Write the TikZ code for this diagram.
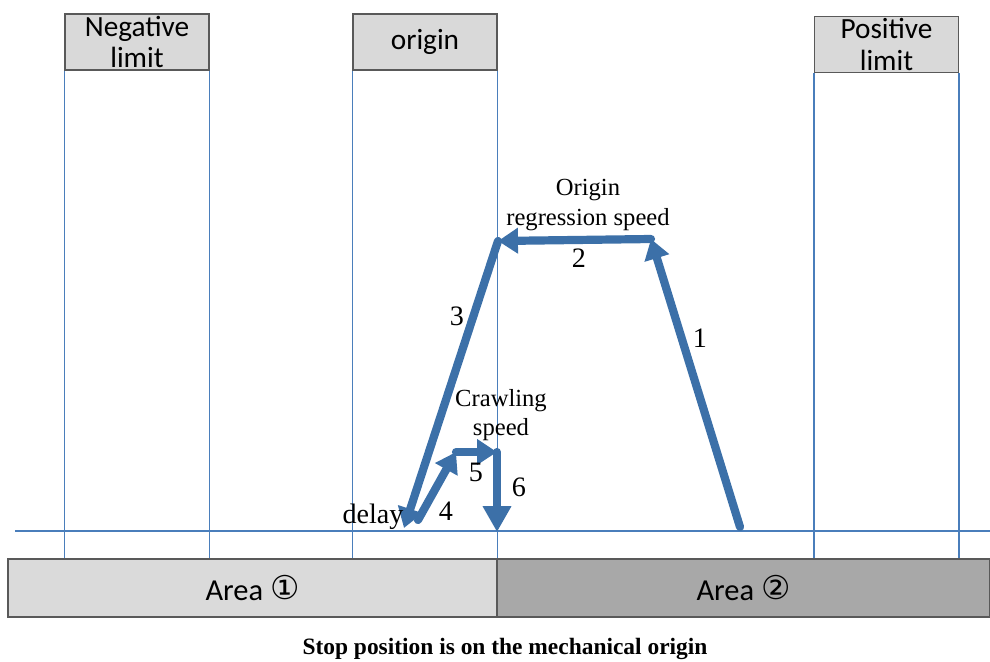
\documentclass[tikz,border=0pt]{standalone}
\usepackage{fontspec}
\usepackage{xcolor}
\usetikzlibrary{arrows.meta}
\setmainfont{Liberation Serif}
\newfontfamily\boxfont{Carlito}
\newfontfamily\symfont{DejaVu Sans}
\definecolor{railBlue}{HTML}{4A7EBB}
\definecolor{moveBlue}{HTML}{3C70A8}
\definecolor{capGray}{HTML}{D9D9D9}
\definecolor{edgeGray}{HTML}{595959}
\definecolor{areaLight}{HTML}{DADADA}
\definecolor{areaDark}{HTML}{A8A8A8}

\begin{document}
\begin{tikzpicture}[
        x=0.03cm, y=-0.03cm,
        capBox/.style={draw=edgeGray, fill=capGray, line width=1pt, minimum width=4.32cm, minimum height=1.68cm, inner sep=0pt, align=center, font=\boxfont\fontsize{25}{27}\selectfont},
        areaBox/.style={draw=edgeGray, line width=1pt, minimum height=1.74cm, inner sep=0pt, font=\boxfont\fontsize{26}{28}\selectfont},
        rail/.style={railBlue, line width=1.5pt},
        move/.style={moveBlue, line width=7pt, line cap=round, line join=round, -{Triangle[length=17pt, width=21pt]}},
        tag/.style={font=\fontsize{21}{25}\selectfont, align=center, inner sep=0pt},
        num/.style={font=\fontsize{24}{26}\selectfont, inner sep=0pt}
    ]
        \useasboundingbox (0,0) rectangle (990,661);

        % Limit and origin caps
        \node[capBox, at={(137,42)}] (neg) {Negative\\limit};
        \node[capBox, at={(425,42)}] (org) {origin};
        \node[capBox, at={(886.5,44.5)}] (pos) {Positive\\limit};

        % Areas
        \node[areaBox, fill=areaLight, minimum width=14.67cm, at={(252.5,588)}] (area1) {Area \raisebox{1.5pt}{\symfont\fontsize{28}{28}\selectfont ①}};
        \node[areaBox, fill=areaDark, minimum width=14.79cm, at={(743.5,588)}] (area2) {Area \raisebox{1.5pt}{\symfont\fontsize{28}{28}\selectfont ②}};

        % Vertical rails
        \foreach \cap in {neg, org, pos} {
            \draw[rail] (\cap.south west) -- (\cap.south west |- area1.north);
            \draw[rail] (\cap.south east) -- (\cap.south east |- area1.north);
        }

        % Horizontal axis
        \coordinate (axisL) at (15,531);
        \coordinate (axisR) at (990,531);
        \draw[rail] (axisL) -- (axisR);

        % Motion path points
        \coordinate (m1) at (740,527);
        \coordinate (m2) at (651,239);
        \coordinate (m3) at (498,241);
        \coordinate (m4) at (404,528);
        \coordinate (m5) at (418,520);
        \coordinate (m6) at (456,452);
        \coordinate (m7) at (497,452);
        \coordinate (m8) at (497,532);

        % Moves
        \draw[move] (m1) -- (m2);
        \draw[move] (m2) -- (m3);
        \draw[move] (m3) -- (m4);
        \draw[move] (m5) -- (m6);
        \draw[move] (m6) -- (m7);
        \draw[move, -{Triangle[length=22pt, width=23pt]}] (m7) -- (m8);

        % Labels
        \node[num] (t1) at (700,338) {1};
        \node[num] (t2) at (579,258) {2};
        \node[num] (t3) at (457,316) {3};
        \node[num] (t4) at (446,511) {4};
        \node[num] (t5) at (476,472) {5};
        \node[num] (t6) at (519,487) {6};
        \node[tag] (fast) at (588,205) {Origin\\regression speed};
        \node[tag] (slow) at (501,415) {Crawling\\speed};
        \node[tag, font=\fontsize{24}{26}\selectfont] (wait) at (373,517) {delay};

        \node[font=\bfseries\fontsize{20}{22}\selectfont] (caption) at (505,649) {Stop position is on the mechanical origin};
    \end{tikzpicture}
\end{document}
